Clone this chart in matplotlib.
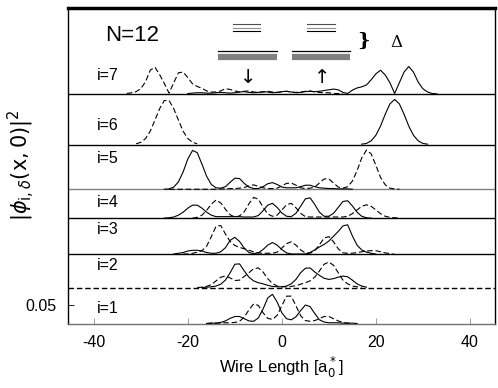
import numpy as np
import matplotlib
matplotlib.use('Agg')
import matplotlib.pyplot as plt

plt.rcParams['font.family'] = ['Liberation Sans', 'DejaVu Sans']
plt.rcParams['mathtext.fontset'] = 'dejavusans'

### level offsets (baselines) for i=1..7, in |phi|^2 units
offsets = [0.0, 0.0973, 0.187, 0.285, 0.363, 0.484, 0.621]
labels = ['i=1', 'i=2', 'i=3', 'i=4', 'i=5', 'i=6', 'i=7']
label_y = [0.041, 0.158, 0.253, 0.328, 0.446, 0.536, 0.672]

### curves sampled every 1 a0*, each list starts at the given x
# i=1
solid1_x0 = -16
solid1 = [0.0, 0.001, 0.001, 0.003, 0.007, 0.014, 0.019, 0.019, 0.013, 0.007, 0.006,
          0.015, 0.039, 0.069, 0.079, 0.058, 0.029, 0.013, 0.010, 0.018, 0.035, 0.050,
          0.046, 0.027, 0.010, 0.004, 0.002, 0.002, 0.002, 0.001, 0.001, 0.001, 0.0]
dash1_x0 = -16
dash1 = [0.0, 0.001, 0.001, 0.001, 0.002, 0.002, 0.003, 0.006, 0.017, 0.037, 0.053,
         0.049, 0.029, 0.014, 0.011, 0.022, 0.048, 0.074, 0.074, 0.048, 0.021, 0.008,
         0.006, 0.008, 0.013, 0.019, 0.019, 0.013, 0.007, 0.003, 0.001, 0.0]
# i=2
solid2_x0 = -17
solid2 = [0.0, 0.001, 0.002, 0.004, 0.009, 0.020, 0.040, 0.063, 0.064, 0.045, 0.028,
          0.018, 0.013, 0.010, 0.006, 0.003, 0.002, 0.002, 0.004, 0.010, 0.022, 0.040,
          0.052, 0.053, 0.042, 0.033, 0.025, 0.022, 0.024, 0.028, 0.031, 0.029, 0.020,
          0.010, 0.004, 0.001]
dash2_x0 = -18
dash2 = [0.0, 0.001, 0.003, 0.008, 0.018, 0.028, 0.031, 0.026, 0.019, 0.020, 0.030,
         0.040, 0.051, 0.053, 0.042, 0.024, 0.011, 0.004, 0.002, 0.002, 0.003, 0.005,
         0.009, 0.013, 0.018, 0.028, 0.045, 0.063, 0.069, 0.060, 0.040, 0.020, 0.010,
         0.004, 0.002, 0.001]
# i=3
solid3_x0 = -23
solid3 = [0.001, 0.003, 0.005, 0.009, 0.011, 0.011, 0.009, 0.005, 0.003, 0.003, 0.007,
          0.018, 0.038, 0.046, 0.035, 0.017, 0.005, 0.002, 0.004, 0.013, 0.025, 0.032,
          0.025, 0.013, 0.004, 0.001, 0.001, 0.001, 0.001, 0.005, 0.012, 0.020, 0.027,
          0.036, 0.049, 0.062, 0.077, 0.080, 0.050, 0.025, 0.012, 0.006, 0.003, 0.001]
dash3_x0 = -21
dash3 = [0.001, 0.001, 0.003, 0.006, 0.010, 0.022, 0.048, 0.076, 0.078, 0.055, 0.035,
         0.024, 0.019, 0.015, 0.011, 0.007, 0.004, 0.003, 0.003, 0.003, 0.006, 0.017,
         0.029, 0.034, 0.025, 0.012, 0.004, 0.003, 0.010, 0.026, 0.044, 0.048, 0.034,
         0.015, 0.004, 0.003, 0.003, 0.005, 0.007, 0.009, 0.010, 0.010, 0.007, 0.004,
         0.002, 0.0]
# i=4
solid4_x0 = -25
solid4 = [0.0, 0.001, 0.003, 0.008, 0.016, 0.027, 0.035, 0.035, 0.027, 0.016, 0.008,
          0.004, 0.004, 0.004, 0.004, 0.004, 0.004, 0.003, 0.003, 0.003, 0.007, 0.020,
          0.035, 0.040, 0.029, 0.014, 0.005, 0.004, 0.013, 0.032, 0.052, 0.055, 0.037,
          0.016, 0.005, 0.005, 0.013, 0.029, 0.045, 0.047, 0.033, 0.016, 0.005, 0.001, 0.0]
dash4_x0 = -19
dash4 = [0.0, 0.002, 0.008, 0.021, 0.038, 0.049, 0.041, 0.024, 0.009, 0.003, 0.006,
         0.017, 0.039, 0.056, 0.051, 0.030, 0.011, 0.005, 0.008, 0.022, 0.036, 0.040,
         0.028, 0.013, 0.004, 0.003, 0.003, 0.003, 0.003, 0.003, 0.003, 0.003, 0.003,
         0.005, 0.012, 0.022, 0.032, 0.036, 0.032, 0.022, 0.012, 0.005, 0.002, 0.001, 0.0]
# i=5
solid5_x0 = -25
solid5 = [0.0, 0.001, 0.006, 0.020, 0.047, 0.082, 0.105, 0.099, 0.068, 0.035, 0.013,
          0.004, 0.003, 0.007, 0.019, 0.030, 0.029, 0.016, 0.006, 0.002, 0.002, 0.007,
          0.015, 0.018, 0.013, 0.006, 0.004, 0.004, 0.004, 0.007, 0.011, 0.011, 0.007,
          0.004, 0.003, 0.002, 0.002, 0.001, 0.001, 0.001, 0.0]
dash5_x0 = -24
dash5 = [0.0, 0.0, 0.0, 0.0, 0.0, 0.0, 0.0, 0.0, 0.0, 0.0, 0.0, 0.001,
         0.001, 0.002, 0.002, 0.003, 0.005, 0.009, 0.012, 0.008, 0.004, 0.002, 0.002,
         0.003, 0.009, 0.016, 0.017, 0.011, 0.004, 0.002, 0.003, 0.006, 0.017, 0.028,
         0.028, 0.017, 0.006, 0.003, 0.007, 0.022, 0.050, 0.085, 0.106, 0.096, 0.065,
         0.032, 0.012, 0.003, 0.001, 0.0]
# i=6
solid6_x0 = 17
solid6 = [0.001, 0.003, 0.010, 0.025, 0.050, 0.082, 0.110, 0.122, 0.110, 0.082, 0.050,
          0.025, 0.010, 0.003, 0.001]
dash6_x0 = -31
dash6 = [0.002, 0.006, 0.016, 0.036, 0.066, 0.097, 0.119, 0.119, 0.097, 0.066, 0.036,
         0.016, 0.006, 0.002]
# i=7
solid7_x0 = -20
solid7 = [0.001, 0.002, 0.003, 0.003, 0.002, 0.002, 0.003, 0.004, 0.003, 0.002, 0.003,
          0.005, 0.006, 0.004, 0.003, 0.004, 0.006, 0.005, 0.003, 0.004, 0.006, 0.007,
          0.005, 0.003, 0.004, 0.006, 0.007, 0.006, 0.007, 0.009, 0.011, 0.013, 0.011,
          0.004, 0.001, 0.010, 0.016, 0.019, 0.024, 0.038, 0.054, 0.064, 0.051, 0.030,
          0.001, 0.030, 0.059, 0.074, 0.059, 0.032, 0.014, 0.005, 0.001, 0.0]
dash7_x0 = -33
dash7 = [0.001, 0.003, 0.006, 0.014, 0.033, 0.064, 0.072, 0.052, 0.028, 0.002, 0.030,
         0.057, 0.059, 0.044, 0.027, 0.020, 0.015, 0.008, 0.005, 0.005, 0.008, 0.014,
         0.012, 0.008, 0.005, 0.007, 0.008, 0.005, 0.004, 0.005, 0.007, 0.005, 0.004,
         0.005, 0.007, 0.005, 0.004, 0.005, 0.007, 0.008, 0.005, 0.004, 0.003, 0.003,
         0.001, 0.001, 0.0]

solids = [(solid1_x0, solid1), (solid2_x0, solid2), (solid3_x0, solid3), (solid4_x0, solid4),
          (solid5_x0, solid5), (solid6_x0, solid6), (solid7_x0, solid7)]
dashes = [(dash1_x0, dash1), (dash2_x0, dash2), (dash3_x0, dash3), (dash4_x0, dash4),
          (dash5_x0, dash5), (dash6_x0, dash6), (dash7_x0, dash7)]
base_colors = ['#808080', 'black', 'black', 'black', '#808080', 'black', 'black']

fig = plt.figure(figsize=(4.98, 3.88), dpi=100)
ax = fig.add_axes([0.1365, 0.1662, 0.857, 0.813])
ax.set_xlim(-45.5, 45.3)
ax.set_ylim(0, 0.853)

dash_style = (0, (5, 2.5))
for k in range(7):
    off = offsets[k]
    if k == 1:
        ax.axhline(off, color='black', lw=1.0, ls=(0, (4, 2)), zorder=1)
    elif k > 0:
        ax.axhline(off, color=base_colors[k], lw=1.0, zorder=1)
    x0, ys = solids[k]
    xs = np.arange(x0, x0 + len(ys))
    ax.plot(xs, np.array(ys) + off, color='black', lw=0.8, zorder=3)
    x0, ys = dashes[k]
    xs = np.arange(x0, x0 + len(ys))
    ax.plot(xs, np.array(ys) + off, color='black', lw=0.8, ls=dash_style, zorder=3)
    ax.text(-39.4, label_y[k], labels[k], fontsize=11.5, ha='left', va='center')

ax.text(-37.7, 0.780, 'N=12', fontsize=16, ha='left', va='center')

### level scheme: spin down (left) and spin up (right)
for xa, xb, xc, xd in [(-10.4, -4.7, -13.6, -1.1), (5.3, 11.3, 2.1, 14.5)]:
    ax.plot([xa, xb], [0.810, 0.810], color='#505050', lw=0.8)
    ax.plot([xa, xb], [0.800, 0.800], color='#909090', lw=0.8)
    ax.plot([xa, xb], [0.790, 0.790], color='black', lw=0.8)
    ax.plot([xc, xd], [0.736, 0.736], color='black', lw=0.9)
    ax.plot([xc, xd], [0.721, 0.721], color='#808080', lw=4.5, solid_capstyle='butt')
ax.text(-7.2, 0.666, '\u2193', fontsize=14, ha='center', va='center', family='DejaVu Sans')
ax.text(8.5, 0.666, '\u2191', fontsize=14, ha='center', va='center', family='DejaVu Sans')
ax.text(17.4, 0.764, '}', fontsize=14, ha='center', va='center', family='DejaVu Serif',
        weight='bold')
ax.text(24.3, 0.760, '\u0394', fontsize=12, ha='center', va='center', family='DejaVu Serif')

ax.set_xticks([-40, -20, 0, 20, 40])
ax.set_xticklabels(['-40', '-20', '0', '20', '40'])
ax.set_yticks([0.05])
ax.set_yticklabels(['0.05'])
ax.tick_params(direction='in', length=4, width=0.6, labelsize=11.5, pad=8)
ax.tick_params(axis='x', colors='#909090', labelcolor='black')
ax.set_xlabel(r'Wire Length [a$_0^*$]', fontsize=12, labelpad=4)
fig.text(6 / 498, 0.575, r'$|\phi_{\mathrm{i},\delta}(\mathrm{x},0)|^2$', fontsize=15,
         rotation=90, ha='left', va='center')

ax.spines['top'].set_linewidth(2.5)
ax.spines['left'].set_linewidth(1.0)
ax.spines['right'].set_linewidth(1.0)
ax.spines['bottom'].set_linewidth(1.0)
ax.spines['bottom'].set_color('#707070')

plt.savefig('out.png', dpi=100)
